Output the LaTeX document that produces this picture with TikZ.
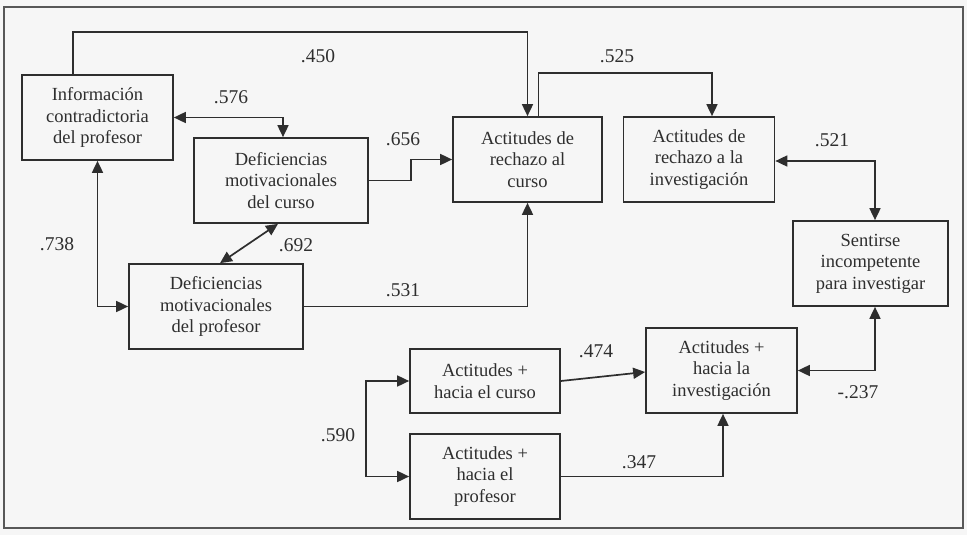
\documentclass[tikz,border=0pt]{standalone}
\usepackage{fontspec}
\setmainfont{Liberation Serif}
\usetikzlibrary{arrows.meta,calc}
\definecolor{ink}{HTML}{2E2E2E}
\definecolor{paper}{HTML}{F6F6F6}
\begin{document}
\begin{tikzpicture}[x=1pt,y=-1pt,
  box/.style={draw=ink,line width=1.7pt,inner sep=0pt,align=center,text=ink,
    font=\fontsize{18.5}{21.5}\selectfont},
  lbl/.style={text=ink,inner sep=0pt,font=\fontsize{19.5}{22}\selectfont},
  con/.style={draw=ink,line width=1.7pt,-{Triangle[length=12pt,width=11pt]}},
  dcon/.style={draw=ink,line width=1.7pt,{Triangle[length=12pt,width=11pt]}-{Triangle[length=12pt,width=11pt]}}]
\useasboundingbox (0,0) rectangle (967,535);
\fill[paper] (0,0) rectangle (967,535);
\draw[ink!80,line width=1.4pt] (4,7) rectangle (963,528);
% boxes
\node[box,minimum width=151pt,minimum height=85pt] (info) at (97.5,117.5) {Información\\contradictoria\\del profesor};
\node[box,minimum width=174pt,minimum height=85pt] (defc) at (281,180.5) {Deficiencias\\motivacionales\\del curso};
\node[box,minimum width=174pt,minimum height=85pt] (defp) at (216,306.5) {Deficiencias\\motivacionales\\del profesor};
\node[box,minimum width=149pt,minimum height=85pt] (rc) at (527.5,159.5) {Actitudes de\\rechazo al\\curso};
\node[box,minimum width=151pt,minimum height=85pt] (ri) at (699,159.5) {Actitudes de\\rechazo a la\\investigación};
\node[box,minimum width=155pt,minimum height=85pt] (sent) at (870.5,263.5) {Sentirse\\incompetente\\para investigar};
\node[box,minimum width=151pt,minimum height=85pt] (ai) at (721.5,370.5) {Actitudes +\\hacia la\\investigación};
\node[box,minimum width=150pt,minimum height=64pt] (ac) at (485,381) {Actitudes +\\hacia el curso};
\node[box,minimum width=150pt,minimum height=85pt] (ap) at (485,476.5) {Actitudes +\\hacia el\\profesor};
% helper coordinates
\coordinate (c450) at (300,32);
\coordinate (c525) at (620,73);
% connectors
\draw[con] ([xshift=-24.5pt]info.north) |- (c450) -| (rc.north);
\draw[con] ([xshift=11pt]rc.north) |- (c525) -| ([xshift=13pt]ri.north);
\draw[dcon] (info.east) -| ([xshift=2pt]defc.north);
\draw[con] (defc.east) -- ++(42,0) |- (rc.west);
\draw[dcon] (info.south) |- (defp.west);
\draw[dcon] ([xshift=4pt]defp.north) -- ([xshift=-3pt]defc.south);
\draw[con] (defp.east) -| (rc.south);
\draw[dcon] ([yshift=-1.5pt]ri.east) -| ([xshift=4.5pt]sent.north);
\draw[dcon] ([xshift=4.5pt]sent.south) |- (ai.east);
\draw[con] (ac.east) -- ([yshift=-1.5pt]ai.west);
\draw[dcon] (ac.west) -- ++(-43,0) |- (ap.west);
\draw[con] (ap.east) -| ([xshift=1.5pt]ai.south);
% labels
\node[lbl] (l450) at (318,56) {.450};
\node[lbl] (l525) at (617,56) {.525};
\node[lbl] (l576) at (231,97) {.576};
\node[lbl] (l656) at (403,139) {.656};
\node[lbl] (l521) at (832,140) {.521};
\node[lbl] (l738) at (57,244) {.738};
\node[lbl] (l692) at (296,245) {.692};
\node[lbl] (l531) at (403,290) {.531};
\node[lbl] (l474) at (596,351) {.474};
\node[lbl] (l590) at (338,435) {.590};
\node[lbl] (l347) at (639,462) {.347};
\node[lbl] (l237) at (858,392) {-.237};
\end{tikzpicture}
\end{document}
